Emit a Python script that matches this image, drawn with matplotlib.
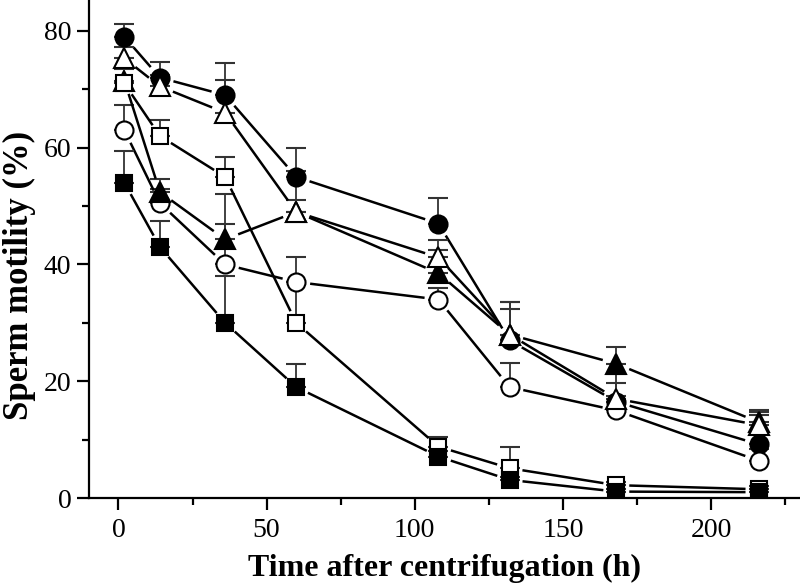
import numpy as np
import matplotlib
matplotlib.use("Agg")
import matplotlib.pyplot as plt
from matplotlib.ticker import MultipleLocator

plt.rcParams['font.family'] = ['Liberation Serif', 'DejaVu Serif']

# sampling times (h)
time = [2, 14, 36, 60, 108, 132, 168, 216]

# sperm motility (%) and upper error bars, one pair per group
filled_circle = [79, 72, 69, 55, 47, 27, 16.5, 9.2]
filled_circle_err = [2.2, 2.7, 5.5, 5.0, 4.4, 6.6, 3.2, 5.0]
open_triangle = [75.3, 70.5, 66, 49, 41.2, 28, 17, 12.5]
open_triangle_err = [2.0, 2.0, 5.6, 7.0, 3.0, 4.4, 4.2, 2.5]
filled_triangle = [71.5, 52.4, 44.3, 49, 38.5, 28, 23, 13]
filled_triangle_err = [2.0, 2.2, 2.6, 2.0, 4.0, 5.5, 2.8, 1.8]
open_circle = [63, 50.5, 40, 37, 34, 19, 15, 6.4]
open_circle_err = [4.3, 2.5, 12.0, 4.3, 2.0, 4.1, 2.5, 2.0]
open_square = [71, 62, 55, 30, 8.8, 5.1, 2.2, 1.5]
open_square_err = [2.9, 2.7, 3.4, 7.0, 1.7, 3.7, 0.5, 0.5]
filled_square = [54, 43, 30, 19, 7.1, 3.1, 1.1, 1.0]
filled_square_err = [5.4, 4.4, 8.0, 4.0, 1.0, 0.5, 0.5, 0.5]

# (values, errors, marker, face, size, gap in px) in drawing order
series = [
    (filled_circle, filled_circle_err, 'o', 'black', 13, 14),
    (open_circle, open_circle_err, 'o', 'white', 13, 14),
    (filled_triangle, filled_triangle_err, '^', 'black', 14, 14),
    (open_square, open_square_err, 's', 'white', 11.5, 13),
    (filled_square, filled_square_err, 's', 'black', 11.5, 13),
    (open_triangle, open_triangle_err, '^', 'white', 14, 14),
]

fig = plt.figure(figsize=(8, 5.87), dpi=100)
ax = fig.add_axes([0.111, 0.1516, 0.889, 0.8484])
ax.set_xlim(-10, 230)
ax.set_ylim(0, 85.3)

for vals, err, mk, face, ms, gap in series:
    x = np.array(time, dtype=float)
    y = np.array(vals, dtype=float)
    e = np.array(err, dtype=float)
    ax.errorbar(x, y, yerr=[np.zeros_like(e), e], fmt='none', ecolor='#333333',
                elinewidth=1.3, capsize=7, capthick=1.5, zorder=2)
    # connecting lines with a small gap around each symbol
    pts = ax.transData.transform(np.column_stack([x, y]))
    for p0, p1 in zip(pts[:-1], pts[1:]):
        d = p1 - p0
        L = np.hypot(*d)
        if L <= 2 * gap:
            continue
        u = d / L
        seg = ax.transData.inverted().transform([p0 + u * gap, p1 - u * gap])
        ax.plot(seg[:, 0], seg[:, 1], color='black', lw=1.8,
                solid_capstyle='butt', zorder=2)
    ax.plot(x, y, linestyle='none', marker=mk, markersize=ms,
            markerfacecolor=face, markeredgecolor='black', markeredgewidth=1.5,
            zorder=3)

for side in ['top', 'right']:
    ax.spines[side].set_visible(False)
for side in ['left', 'bottom']:
    ax.spines[side].set_linewidth(1.6)

ax.xaxis.set_major_locator(MultipleLocator(50))
ax.xaxis.set_minor_locator(MultipleLocator(25))
ax.yaxis.set_major_locator(MultipleLocator(20))
ax.yaxis.set_minor_locator(MultipleLocator(10))
ax.tick_params(which='major', direction='out', length=8.6, width=1.6,
               labelsize=20, pad=4)
ax.tick_params(axis='x', which='major', pad=6)
ax.tick_params(which='minor', direction='out', length=5, width=1.6)

ax.set_xlabel('Time after centrifugation (h)', fontsize=23, fontweight='bold',
              labelpad=8)
ax.set_ylabel('Sperm motility (%)', fontsize=25, fontweight='bold')
ax.yaxis.set_label_coords(-0.074, 0.446)

fig.savefig('out.png', dpi=100)
